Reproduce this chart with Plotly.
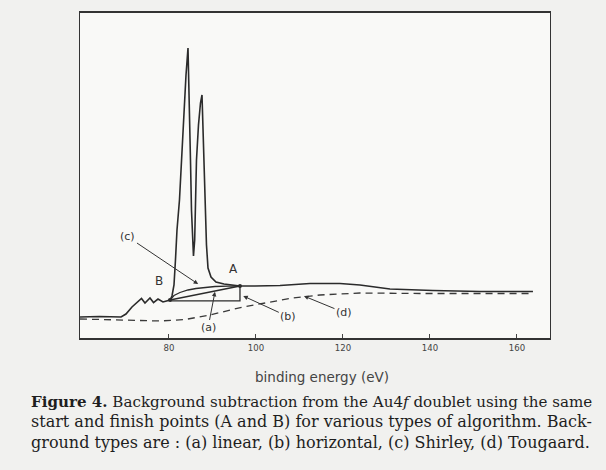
import plotly.graph_objects as go

# Au 4f spectrum: binding energy (eV) vs intensity (arbitrary units)
spec_energy = [59.5, 64.0, 68.97, 70.11, 71.49, 72.87, 73.68, 74.48, 75.63, 76.44, 77.47, 78.62,
               79.54, 80.23, 80.69, 81.15, 81.49, 81.84, 82.41, 82.87, 83.45, 83.91, 84.37,
               84.71, 84.94, 85.17, 85.36, 85.63, 85.91, 86.09, 86.32, 86.78, 87.24, 87.59,
               87.82, 88.05, 88.39, 88.62, 88.97, 89.66, 90.80, 92.64, 94.48, 96.32,
               99.77, 105.52, 112.41, 119.31, 123.91, 130.80, 140.69, 151.49, 163.68]
spec_counts = [6.46, 6.6, 6.46, 7.38, 9.54, 11.08, 12.15, 10.77, 12.31, 10.92, 12.0, 11.08,
               11.54, 11.69, 12.92, 16.31, 24.0, 33.23, 42.46, 54.77, 70.15, 80.92, 89.23,
               73.23, 54.77, 39.38, 30.15, 25.23, 30.15, 42.46, 54.77, 65.54, 72.31, 74.77,
               65.54, 54.77, 39.38, 28.62, 21.54, 18.77, 17.23, 16.62, 16.31, 16.0,
               16.0, 16.15, 16.77, 16.77, 16.31, 15.08, 14.62, 14.31, 14.31]

# start (B) and finish (A) points of the background
point_b = (80.23, 11.69)
point_a = (96.32, 16.0)

# (a) linear background
linear_energy = [point_b[0], point_a[0]]
linear_counts = [point_b[1], point_a[1]]

# (b) horizontal background
horiz_energy = [80.23, 96.32, 96.32]
horiz_counts = [11.4, 11.4, 16.0]

# (c) Shirley background
shirley_energy = [80.23, 81.15, 82.53, 84.37, 86.21, 88.28, 90.57, 93.56, 96.32]
shirley_counts = [11.69, 13.08, 14.0, 14.77, 15.23, 15.6, 15.85, 15.97, 16.0]

# (d) Tougaard background
tougaard_energy = [59.54, 69.89, 77.93, 83.68, 89.43, 97.01, 103.2, 108.5, 114.7, 123.9, 137.7, 163.68]
tougaard_counts = [5.85, 5.54, 5.23, 5.69, 7.08, 9.54, 11.08, 12.31, 13.23, 13.85, 13.69, 13.69]

tick_values = [80, 100, 120, 140, 160]

ink = "#2b2b2b"
fig = go.Figure()

fig.add_trace(go.Scatter(x=tougaard_energy, y=tougaard_counts, mode="lines",
                         line=dict(color="#3a3a3a", width=1.3, dash="7px,5px")))
fig.add_trace(go.Scatter(x=horiz_energy, y=horiz_counts, mode="lines",
                         line=dict(color=ink, width=1.3)))
fig.add_trace(go.Scatter(x=linear_energy, y=linear_counts, mode="lines",
                         line=dict(color=ink, width=1.3)))
fig.add_trace(go.Scatter(x=shirley_energy, y=shirley_counts, mode="lines",
                         line=dict(color=ink, width=1.3)))
fig.add_trace(go.Scatter(x=spec_energy, y=spec_counts, mode="lines",
                         line=dict(color=ink, width=1.6)))
fig.add_trace(go.Scatter(x=[point_b[0], point_a[0]], y=[point_b[1], point_a[1]], mode="markers",
                         marker=dict(color=ink, size=4)))

label_font = dict(family="DejaVu Sans", size=11, color="#333333")
arrow_style = dict(showarrow=True, arrowhead=2, arrowsize=0.9, arrowwidth=1,
                   arrowcolor="#333333", axref="x", ayref="y", font=label_font)

annotations = [
    dict(x=86.7, y=16.6, ax=70.57, ay=31.08, text="(c)", **arrow_style),
    dict(x=90.57, y=14.2, ax=88.97, ay=3.08, text="(a)", **arrow_style),
    dict(x=97.08, y=12.92, ax=107.43, ay=6.55, text="(b)", **arrow_style),
    dict(x=111.03, y=12.9, ax=120.23, ay=7.85, text="(d)", **arrow_style),
    dict(x=77.59, y=17.69, text="B", showarrow=False, font=dict(family="DejaVu Sans", size=12, color="#333333")),
    dict(x=94.78, y=21.14, text="A", showarrow=False, font=dict(family="DejaVu Sans", size=12, color="#333333")),
    dict(x=0.515, y=-0.12, xref="paper", yref="paper", xanchor="center", yanchor="middle",
         text="binding energy (eV)", showarrow=False,
         font=dict(family="DejaVu Sans", size=13.5, color="#444444")),
]

# figure caption, three lines
caption_lines = [
    "<b>Figure 4.</b> Background subtraction from the Au4<i>f</i> doublet using the same",
    "start and finish points (A and B) for various types of algorithm. Back-",
    "ground types are : (a) linear, (b) horizontal, (c) Shirley, (d) Tougaard.",
]
caption_sizes = [15.1, 16.0, 16.0]
caption_y = [-0.1969, -0.2569, -0.32]
for line, size, yy in zip(caption_lines, caption_sizes, caption_y):
    annotations.append(dict(x=-0.108, y=yy, xref="paper", yref="paper", xanchor="left",
                            yanchor="middle", text=line, showarrow=False,
                            font=dict(family="DejaVu Serif", size=size, color="#1e1e1e")))

fig.update_layout(
    width=606, height=470,
    margin=dict(l=80, r=56, t=13, b=132),
    paper_bgcolor="#f1f1ef",
    plot_bgcolor="#f9f9f7",
    showlegend=False,
    annotations=annotations,
    xaxis=dict(range=[59.54, 167.6], tickvals=tick_values, ticks="inside", ticklen=4,
               tickcolor="#444444", showgrid=False, zeroline=False,
               showline=True, linecolor="#333333", linewidth=1.6, mirror=True,
               tickfont=dict(family="DejaVu Sans Condensed", size=9.5, color="#444444")),
    yaxis=dict(range=[0, 100], showticklabels=False, ticks="", showgrid=False, zeroline=False,
               showline=True, linecolor="#333333", linewidth=1.4, mirror=True),
)

fig.write_html("out.html")
